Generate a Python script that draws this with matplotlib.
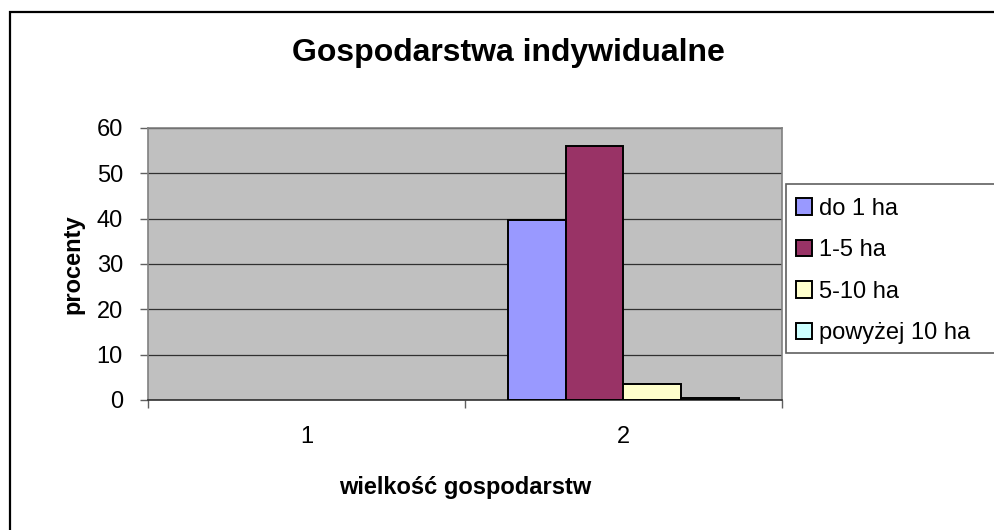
"""
Excel-style grouped bar chart: Gospodarstwa indywidualne
"""

import matplotlib
matplotlib.use("Agg")
import matplotlib.pyplot as plt
from matplotlib.patches import Rectangle
import numpy as np

plt.rcParams['font.family'] = ['Liberation Sans', 'DejaVu Sans']

# Data (category 1 is empty)
categories = ['1', '2']
series_names = ['do 1 ha', '1-5 ha', '5-10 ha', 'powyżej 10 ha']
series_values = [
    [None, 39.8],
    [None, 56.0],
    [None, 3.5],
    [None, 0.5],
]
colors = ['#9999FF', '#993366', '#FFFFCC', '#CCFFFF']
yticks = [0, 10, 20, 30, 40, 50, 60]

W, H = 995, 530
FS = 17
fig = plt.figure(figsize=(W / 100, H / 100), dpi=100)

# outer chart border (right and bottom run off the picture)
fig.patches.append(Rectangle((10 / W, -0.05), 1.05, (H - 12) / H + 0.05,
                             transform=fig.transFigure, fill=False,
                             edgecolor='black', linewidth=1.6, zorder=-2))

ax = fig.add_axes([148 / W, (H - 400) / H, 634 / W, 272 / H])
ax.set_facecolor('#C0C0C0')

x = np.arange(1, len(categories) + 1)
n = len(series_names)
width = 0.182
for i, (name, vals, c) in enumerate(zip(series_names, series_values, colors)):
    offs = (i - (n - 1) / 2) * width
    h = np.array([np.nan if v is None else v for v in vals], dtype=float)
    ax.bar(x + offs, h, width, color=c, edgecolor='black',
           linewidth=1.4, label=name, zorder=3)

ax.set_xlim(0.5, len(categories) + 0.5)
ax.set_ylim(0, 60)
ax.set_yticks(yticks)
ax.yaxis.grid(True, color='#303030', linewidth=0.9, zorder=1)

# category boundary ticks, labels at centres
ax.set_xticks(np.arange(0.5, len(categories) + 1, 1.0))
ax.set_xticklabels([])
ax.set_xticks(x, minor=True)
ax.set_xticklabels(categories, minor=True)
ax.tick_params(axis='x', which='major', direction='out', length=6,
               width=1, color='#606060')
ax.tick_params(axis='x', which='minor', length=0, pad=19, labelsize=FS)
ax.tick_params(axis='y', direction='out', length=6, width=1,
               color='#606060', pad=12, labelsize=FS)

for side in ['top', 'right', 'left']:
    ax.spines[side].set_color('#808080')
    ax.spines[side].set_linewidth(1.2)
ax.spines['bottom'].set_color('#303030')
ax.spines['bottom'].set_linewidth(1.2)

ax.set_ylabel('procenty', fontsize=FS, fontweight='bold', labelpad=9)
ax.set_xlabel('wielkość gospodarstw', fontsize=FS, fontweight='bold',
              labelpad=20)

fig.text(508 / W, 1 - 53 / H, 'Gospodarstwa indywidualne', fontsize=23,
         fontweight='bold', ha='center', va='center')

# legend frame runs off the right edge
fig.patches.append(Rectangle((786 / W, (H - 353) / H), 0.3, 169 / H,
                             transform=fig.transFigure, facecolor='white',
                             edgecolor='#606060', linewidth=1.2, zorder=-1))
leg = ax.legend(loc='upper left', bbox_to_anchor=(779 / W, 1 - 181 / H),
                bbox_transform=fig.transFigure, frameon=False, fontsize=FS,
                handlelength=0.7, handleheight=0.7, handletextpad=0.3,
                labelspacing=0.83, borderpad=0.2)
for p in leg.get_patches():
    p.set_edgecolor('black')
    p.set_linewidth(1.4)

fig.savefig('out.png', dpi=100)
